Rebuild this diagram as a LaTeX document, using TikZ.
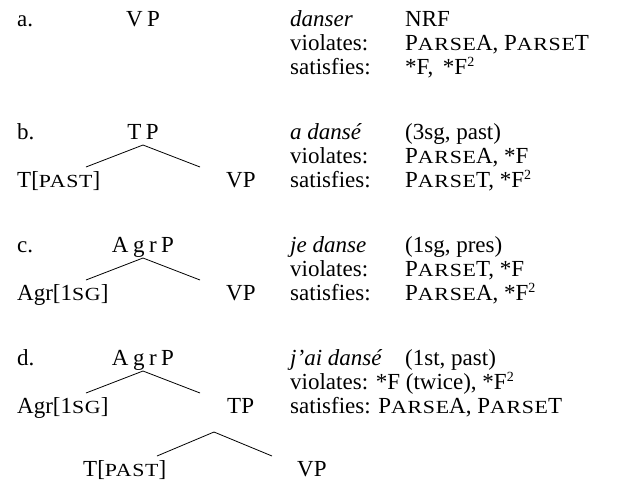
\documentclass[tikz,border=0pt]{standalone}
\usepackage{fontspec}
\setmainfont{Liberation Serif}
\usetikzlibrary{calc}
% faked small capitals (reduced, widened capitals), squared superscript,
% letter spacing in tree labels
\newcommand\smc[1]{{\fontsize{18.5}{22}\selectfont\addfontfeature{FakeStretch=1.18,LetterSpace=4}#1}}
\newcommand\sqr{\raisebox{8pt}{\fontsize{14}{14}\selectfont 2}}
\newcommand\ltr{\hspace{4.5pt}}
\begin{document}
\begin{tikzpicture}[x=1pt,y=-1pt,
  every node/.style={inner sep=0pt,font=\fontsize{23}{26}\selectfont},
  txt/.style={anchor=base west},
  cat/.style={anchor=base},
  branch/.style={line width=0.8pt}]
\fill[white] (0,0) rectangle (634,501);
\useasboundingbox (0,0) rectangle (634,501);

% ---- a. ----
\node[txt] (la) at (17,26) {a.};
\node[cat] (aVP) at (143,26) {V\ltr P};
\node[txt] (aw) at (290,26) {\textit{danser}};
\node[txt] (ag) at (405,26) {NRF};
\node[txt] (av) at (290,50) {violates:};
\node[txt] (avc) at (405,50) {P\smc{ARSE}A, P\smc{ARSE}T};
\node[txt] (as) at (290,74) {satisfies:};
\node[txt] (asc) at (405,74) {*F, \,*F\sqr};

% ---- b. ----
\node[txt] (lb) at (17,139) {b.};
\node[cat] (bTP) at (143,139) {T\ltr P};
\node[txt] (bT) at (17,187) {T[\smc{PAST}]};
\node[txt] (bVP) at (226,187) {VP};
\node[txt] (bw) at (290,139) {\textit{a dansé}};
\node[txt] (bg) at (405,139) {(3sg, past)};
\node[txt] (bv) at (290,163) {violates:};
\node[txt] (bvc) at (405,163) {P\smc{ARSE}A, *F};
\node[txt] (bs) at (290,187) {satisfies:};
\node[txt] (bsc) at (405,187) {P\smc{ARSE}T, *F\sqr};
\draw[branch] ($(bTP.base)+(0,6)$) -- ($(bT.base west)+(69,-20)$);
\draw[branch] ($(bTP.base)+(0,6)$) -- ($(bVP.base west)+(-26,-20)$);

% ---- c. ----
\node[txt] (lc) at (17,252) {c.};
\node[cat] (cAgrP) at (143,252) {A\ltr g\ltr r\ltr P};
\node[txt] (cAgr) at (17,300) {Agr[1\smc{SG}]};
\node[txt] (cVP) at (226,300) {VP};
\node[txt] (cw) at (290,252) {\textit{je danse}};
\node[txt] (cg) at (405,252) {(1sg, pres)};
\node[txt] (cv) at (290,276) {violates:};
\node[txt] (cvc) at (405,276) {P\smc{ARSE}T, *F};
\node[txt] (cs) at (290,300) {satisfies:};
\node[txt] (csc) at (405,300) {P\smc{ARSE}A, *F\sqr};
\draw[branch] ($(cAgrP.base)+(0,6)$) -- ($(cAgr.base west)+(69,-20)$);
\draw[branch] ($(cAgrP.base)+(0,6)$) -- ($(cVP.base west)+(-26,-20)$);

% ---- d. ----
\node[txt] (ld) at (17,365) {d.};
\node[cat] (dAgrP) at (143,365) {A\ltr g\ltr r\ltr P};
\node[txt] (dAgr) at (17,413) {Agr[1\smc{SG}]};
\node[txt] (dTP) at (227,413) {TP};
\node[txt] (dT) at (83,476) {T[\smc{PAST}]};
\node[txt] (dVP) at (297,476) {VP};
\node[txt] (dw) at (290,365) {\textit{j’ai dansé}};
\node[txt] (dg) at (405,365) {(1st, past)};
\node[txt] (dv) at (290,389) {violates: *F (twice), *F\sqr};
\node[txt] (ds) at (290,413) {satisfies: P\smc{ARSE}A, P\smc{ARSE}T};
\draw[branch] ($(dAgrP.base)+(0,6)$) -- ($(dAgr.base west)+(69,-20)$);
\draw[branch] ($(dAgrP.base)+(0,6)$) -- ($(dTP.base west)+(-27,-20)$);
\draw[branch] ($(dTP.base west)+(-13,19)$) -- ($(dT.base west)+(74,-20)$);
\draw[branch] ($(dTP.base west)+(-13,19)$) -- ($(dVP.base west)+(-25,-20)$);
\end{tikzpicture}
\end{document}
